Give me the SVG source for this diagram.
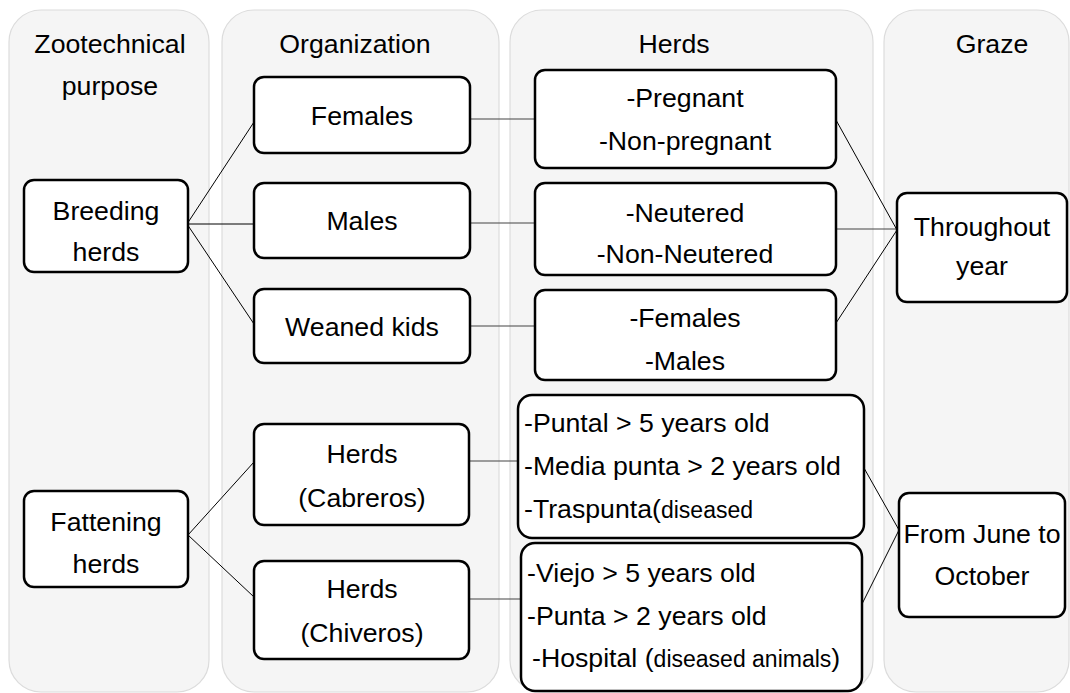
<svg xmlns="http://www.w3.org/2000/svg" width="1070" height="693" viewBox="0 0 1070 693">
<style>
.col{fill:#f5f5f5;stroke:#dcdcdc;stroke-width:1.2}
.box{fill:#fff;stroke:#000;stroke-width:2.5}
text{font-family:"Liberation Sans",Arial,sans-serif;font-size:26.7px;fill:#000}
.c{text-anchor:middle}
.sm{font-size:23px}
.ln{stroke:#000;stroke-width:1;fill:none}
.lg{stroke:#444;stroke-width:1.2;fill:none}
</style>
<rect width="1070" height="693" fill="#fff"/>
<g id="columns">
<rect class="col" x="9" y="10" width="200" height="682" rx="32"/>
<rect class="col" x="222" y="10" width="277" height="682" rx="32"/>
<rect class="col" x="510" y="10" width="363" height="682" rx="32"/>
<rect class="col" x="884" y="10" width="185" height="682" rx="32"/>
<text class="c" x="110" y="53">Zootechnical</text>
<text class="c" x="110" y="95">purpose</text>
<text class="c" x="355" y="53">Organization</text>
<text class="c" x="674" y="53">Herds</text>
<text class="c" x="992" y="53">Graze</text>
</g>
<g id="connectors">
<line class="ln" x1="187" y1="224" x2="254" y2="122"/>
<line class="ln" x1="187" y1="224" x2="254" y2="224"/>
<line class="ln" x1="187" y1="224" x2="254" y2="324"/>
<line class="ln" x1="188" y1="535" x2="254" y2="462"/>
<line class="ln" x1="188" y1="535" x2="254" y2="597"/>
<line class="lg" x1="470" y1="119" x2="535" y2="119"/>
<line class="lg" x1="470" y1="223" x2="535" y2="223"/>
<line class="lg" x1="470" y1="326" x2="535" y2="326"/>
<line class="lg" x1="469" y1="461" x2="518" y2="461"/>
<line class="lg" x1="469" y1="599" x2="521" y2="599"/>
<line class="ln" x1="836" y1="120" x2="897" y2="230"/>
<line class="lg" x1="836" y1="229" x2="897" y2="229"/>
<line class="ln" x1="836" y1="323" x2="897" y2="230"/>
<line class="ln" x1="864" y1="468" x2="899" y2="530"/>
<line class="ln" x1="862" y1="604" x2="899" y2="530"/>
</g>
<g id="breeding">
<rect class="box" x="24" y="180" width="164" height="92" rx="10"/>
<text class="c" x="106" y="220">Breeding</text>
<text class="c" x="106" y="261">herds</text>
</g>
<g id="fattening">
<rect class="box" x="24" y="491" width="164" height="96" rx="10"/>
<text class="c" x="106" y="531">Fattening</text>
<text class="c" x="106" y="573">herds</text>
</g>
<g id="females">
<rect class="box" x="254" y="77" width="216" height="76" rx="10"/>
<text class="c" x="362" y="125">Females</text>
</g>
<g id="males">
<rect class="box" x="254" y="183" width="216" height="75" rx="10"/>
<text class="c" x="362" y="230">Males</text>
</g>
<g id="weaned">
<rect class="box" x="254" y="289" width="216" height="74" rx="10"/>
<text class="c" x="362" y="336">Weaned kids</text>
</g>
<g id="cabreros">
<rect class="box" x="254" y="424" width="215" height="101" rx="10"/>
<text class="c" x="362" y="463">Herds</text>
<text class="c" x="362" y="507">(Cabreros)</text>
</g>
<g id="chiveros">
<rect class="box" x="254" y="561" width="215" height="98" rx="10"/>
<text class="c" x="362" y="598">Herds</text>
<text class="c" x="362" y="642">(Chiveros)</text>
</g>
<g id="pregnant">
<rect class="box" x="535" y="70" width="301" height="98" rx="10"/>
<text class="c" x="685" y="107">-Pregnant</text>
<text class="c" x="685" y="150">-Non-pregnant</text>
</g>
<g id="neutered">
<rect class="box" x="535" y="183" width="301" height="92" rx="10"/>
<text class="c" x="685" y="222">-Neutered</text>
<text class="c" x="685" y="263">-Non-Neutered</text>
</g>
<g id="kids-sex">
<rect class="box" x="535" y="290" width="301" height="90" rx="10"/>
<text class="c" x="685" y="327">-Females</text>
<text class="c" x="685" y="370">-Males</text>
</g>
<g id="puntal">
<rect class="box" x="518" y="395" width="346" height="143" rx="14"/>
<text x="524" y="432">-Puntal &gt; 5 years old</text>
<text x="524" y="475">-Media punta &gt; 2 years old</text>
<text x="524" y="518">-Traspunta(<tspan class="sm">diseased</tspan></text>
</g>
<g id="viejo">
<rect class="box" x="521" y="543" width="341" height="148" rx="14"/>
<text x="527" y="582">-Viejo &gt; 5 years old</text>
<text x="527" y="625">-Punta &gt; 2 years old</text>
<text x="532" y="667">-Hospital (<tspan class="sm">diseased animals</tspan>)</text>
</g>
<g id="throughout">
<rect class="box" x="897" y="193" width="170" height="109" rx="10"/>
<text class="c" x="982" y="236">Throughout</text>
<text class="c" x="982" y="275">year</text>
</g>
<g id="june">
<rect class="box" x="899" y="493" width="166" height="124" rx="10"/>
<text class="c" x="982" y="543">From June to</text>
<text class="c" x="982" y="585">October</text>
</g>
</svg>
